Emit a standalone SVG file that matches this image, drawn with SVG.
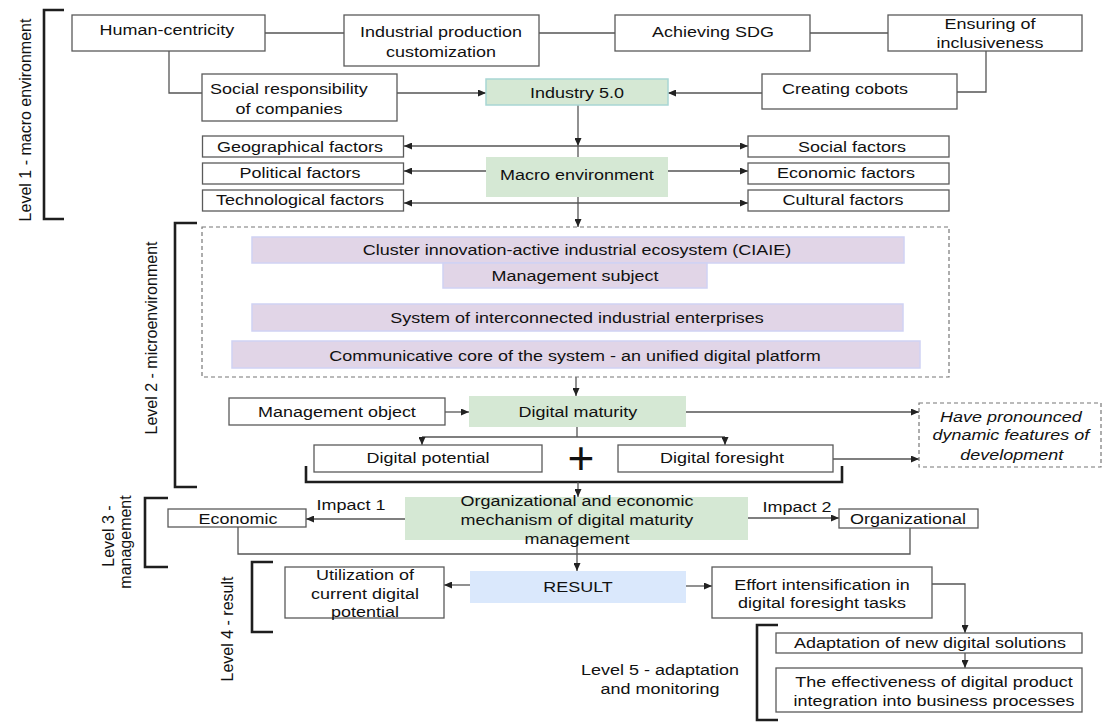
<svg xmlns="http://www.w3.org/2000/svg" width="1104" height="723" viewBox="0 0 1104 723">
<defs>
<marker id="ah" viewBox="0 0 8 7" refX="8" refY="3.5" markerWidth="8" markerHeight="7" markerUnits="userSpaceOnUse" orient="auto-start-reverse"><path d="M0,0L8,3.5L0,7z" fill="#222"/></marker>
<style>
.box{fill:#fff;stroke:#5a5a5a;stroke-width:1.3}
.green{fill:#d5e8d4}
.teal{stroke:#a8d6d4;stroke-width:1.5}
.purple{fill:#e1d5e7;stroke:#d0d2f4;stroke-width:1.5}
.blue{fill:#dae8fc}
.dash{fill:#fff;stroke:#777;stroke-width:1.2;stroke-dasharray:4 3}
.t{font-family:"Liberation Sans",Arial,Helvetica,sans-serif;font-size:14.5px;fill:#111;text-anchor:middle;transform-box:fill-box;transform-origin:center;transform:scaleX(1.24)}
.it{font-style:italic}
.plus{font-family:"Liberation Sans",Arial,Helvetica,sans-serif;font-size:46px;fill:#111;text-anchor:middle}
.lbl{font-family:"Liberation Sans",Arial,Helvetica,sans-serif;font-size:16px;fill:#111;text-anchor:middle}
.c{fill:none;stroke:#555;stroke-width:1.3}
.a{marker-end:url(#ah)}
.ab{marker-start:url(#ah);marker-end:url(#ah)}
.br{fill:none;stroke:#1e1e1e;stroke-width:2.6}
</style>
</defs>
<rect width="1104" height="723" fill="#fff"/>

<g id="brackets">
<path class="br" d="M64,10H44V219H64"/>
<path class="br" d="M197,223H175V487H197"/>
<path class="br" d="M168,498H145V567H168"/>
<path class="br" d="M273,562H252V632H273"/>
<path class="br" d="M778,625H757V720H778"/>
<text class="lbl" transform="translate(31,120) rotate(-90)">Level 1 - macro environment</text>
<text class="lbl" transform="translate(157,338) rotate(-90)">Level 2 - microenvironment</text>
<text class="lbl" transform="translate(114,536) rotate(-90)">Level 3 -</text>
<text class="lbl" transform="translate(131,542) rotate(-90)">management</text>
<text class="lbl" transform="translate(233,629) rotate(-90)">Level 4 - result</text>
<text class="t" x="660" y="675">Level 5 - adaptation</text>
<text class="t" x="660" y="694">and monitoring</text>
</g>

<g id="connectors">
<path class="c" d="M265,33H344"/>
<path class="c" d="M539,33H615"/>
<path class="c" d="M810,33H888"/>
<path class="c" d="M169,51V93H202"/>
<path class="c" d="M986,51V92H957"/>
<path class="c a" d="M397,93H486"/>
<path class="c a" d="M762,93H668"/>
<path class="c a" d="M578,105V146"/>
<path class="c" d="M578,146V157"/>
<path class="c ab" d="M404,146H748"/>
<path class="c a" d="M486,171H404"/>
<path class="c a" d="M668,171H748"/>
<path class="c ab" d="M404,203H748"/>
<path class="c a" d="M578,197V227"/>
<path class="c a" d="M576,288V304"/>
<path class="c a" d="M576,331V341"/>
<path class="c a" d="M576,377V396"/>
<path class="c a" d="M445,412H469"/>
<path class="c a" d="M686,412H919"/>
<path class="c" d="M577,427V437M422,437H725"/>
<path class="c a" d="M422,437V445"/>
<path class="c a" d="M725,437V445"/>
<path class="c a" d="M833,459H919"/>
<path class="br" d="M306,466V482H842V466"/>
<path class="c a" d="M578,482V497"/>
<path class="c a" d="M405,519H306"/>
<path class="c a" d="M748,518H839"/>
<path class="c" d="M238,527V554H910V528"/>
<path class="c a" d="M577,540V571"/>
<path class="c a" d="M470,585H444"/>
<path class="c a" d="M686,586H712"/>
<path class="c a" d="M932,584H965V633"/>
<path class="c a" d="M965,653V668"/>
</g>

<g id="human-centricity"><rect class="box" x="72" y="15" width="193" height="36"/><text class="t" x="167" y="35">Human-centricity</text></g>
<g id="industrial-customization"><rect class="box" x="344" y="15" width="195" height="51"/><text class="t" x="441" y="37">Industrial production</text><text class="t" x="441" y="57">customization</text></g>
<g id="achieving-sdg"><rect class="box" x="615" y="15" width="195" height="36"/><text class="t" x="713" y="37">Achieving SDG</text></g>
<g id="ensuring-inclusiveness"><rect class="box" x="888" y="15" width="194" height="36"/><text class="t" x="990" y="29">Ensuring of</text><text class="t" x="990" y="48">inclusiveness</text></g>
<g id="social-responsibility"><rect class="box" x="202" y="74" width="195" height="47"/><text class="t" x="289" y="94">Social responsibility</text><text class="t" x="289" y="114">of companies</text></g>
<g id="industry-5"><rect class="green teal" x="486" y="79" width="182" height="26"/><text class="t" x="577" y="98">Industry 5.0</text></g>
<g id="creating-cobots"><rect class="box" x="762" y="74" width="195" height="35"/><text class="t" x="845" y="94">Creating cobots</text></g>
<g id="geographical"><rect class="box" x="202.5" y="136" width="201" height="21"/><text class="t" x="300" y="152">Geographical factors</text></g>
<g id="political"><rect class="box" x="202.5" y="163" width="201" height="21"/><text class="t" x="300" y="178">Political factors</text></g>
<g id="technological"><rect class="box" x="202.5" y="190" width="201" height="21"/><text class="t" x="300" y="205">Technological factors</text></g>
<g id="social"><rect class="box" x="748" y="136" width="201" height="21"/><text class="t" x="852" y="152">Social factors</text></g>
<g id="economic-factors"><rect class="box" x="748" y="163" width="201" height="21"/><text class="t" x="846" y="178">Economic factors</text></g>
<g id="cultural"><rect class="box" x="748" y="190" width="201" height="21"/><text class="t" x="843" y="205">Cultural factors</text></g>
<g id="macro-environment"><rect class="green" x="486" y="157" width="182" height="40"/><text class="t" x="577" y="180">Macro environment</text></g>

<g id="microenvironment-frame"><rect class="dash" x="202" y="227" width="747" height="150"/></g>
<g id="ciaie"><rect class="purple" x="252" y="237" width="652" height="26"/><text class="t" x="577" y="255">Cluster innovation-active industrial ecosystem (CIAIE)</text></g>
<g id="management-subject"><rect class="purple" x="443" y="263" width="264" height="25"/><text class="t" x="575" y="281">Management subject</text></g>
<g id="system"><rect class="purple" x="252" y="304" width="651" height="27"/><text class="t" x="577" y="323">System of interconnected industrial enterprises</text></g>
<g id="communicative-core"><rect class="purple" x="232" y="341" width="688" height="27"/><text class="t" x="575" y="361">Communicative core of the system - an unified digital platform</text></g>

<g id="management-object"><rect class="box" x="229" y="398" width="216" height="27"/><text class="t" x="337" y="417">Management object</text></g>
<g id="digital-maturity"><rect class="green" x="469" y="396" width="217" height="31"/><text class="t" x="578" y="417">Digital maturity</text></g>
<g id="dynamic-features"><rect class="dash" x="919" y="403" width="182" height="64"/><text class="t it" x="1011" y="422">Have pronounced</text><text class="t it" x="1011" y="440">dynamic features of</text><text class="t it" x="1012" y="460">development</text></g>
<g id="digital-potential"><rect class="box" x="314" y="445" width="228" height="27"/><text class="t" x="428" y="463">Digital potential</text></g>
<g id="plus"><text class="plus" x="581" y="474">+</text></g>
<g id="digital-foresight"><rect class="box" x="618" y="445" width="215" height="27"/><text class="t" x="722" y="463">Digital foresight</text></g>

<g id="economic"><rect class="box" x="168" y="509" width="138" height="18"/><text class="t" x="238" y="524">Economic</text><text class="t" x="351" y="510">Impact 1</text></g>
<g id="mechanism"><rect class="green" x="405" y="497" width="343" height="43"/><text class="t" x="577" y="506">Organizational and economic</text><text class="t" x="577" y="525">mechanism of digital maturity</text><text class="t" x="577" y="544">management</text></g>
<g id="organizational"><rect class="box" x="839" y="509" width="139" height="19"/><text class="t" x="908" y="524">Organizational</text><text class="t" x="797" y="512">Impact 2</text></g>
<g id="result"><rect class="blue" x="470" y="571" width="216" height="32"/><text class="t" x="578" y="592">RESULT</text></g>
<g id="utilization"><rect class="box" x="285" y="567" width="159" height="51"/><text class="t" x="365" y="580">Utilization of</text><text class="t" x="365" y="599">current digital</text><text class="t" x="365" y="617">potential</text></g>
<g id="effort"><rect class="box" x="712" y="567" width="220" height="51"/><text class="t" x="822" y="590">Effort intensification in</text><text class="t" x="822" y="608">digital foresight tasks</text></g>
<g id="adaptation"><rect class="box" x="776" y="633" width="306" height="20"/><text class="t" x="930" y="648">Adaptation of new digital solutions</text></g>
<g id="effectiveness"><rect class="box" x="776" y="668" width="306" height="44"/><text class="t" x="934" y="687">The effectiveness of digital product</text><text class="t" x="934" y="706">integration into business processes</text></g>
</svg>
